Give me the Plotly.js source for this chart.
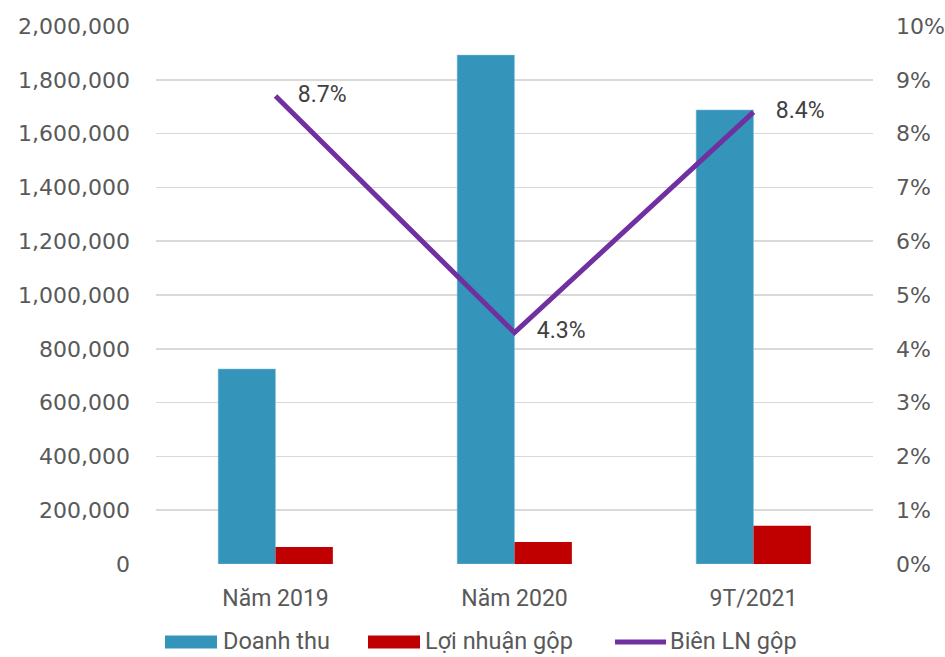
<!DOCTYPE html>
<html>
<head>
<meta charset="utf-8">
<script src="https://cdn.plot.ly/plotly-3.0.1.min.js"></script>
<style>html,body{margin:0;padding:0;background:#fff;}#chart{width:945px;height:657px;}</style>
</head>
<body>
<div id="chart"></div>
<script>
const categories = ["Năm 2019", "Năm 2020", "9T/2021"];
const doanhThu = [725000, 1892000, 1688000];
const loiNhuanGop = [63000, 81500, 142000];
const bienLN = [0.087, 0.043, 0.084];
const bienLabels = ["8.7%", "4.3%", "8.4%"];
const seriesNames = ["Doanh thu", "Lợi nhuận gộp", "Biên LN gộp"];
const leftTicks = [0, 200000, 400000, 600000, 800000, 1000000, 1200000, 1400000, 1600000, 1800000, 2000000];
const rightTicks = [0, 0.01, 0.02, 0.03, 0.04, 0.05, 0.06, 0.07, 0.08, 0.09, 0.10];

const colors = {dt: "#3494BA", ln: "#C00000", bien: "#7030A0"};

// plot area geometry (pixels)
const W = 945, H = 657;
const M = {l: 156, r: 72, t: 26, b: 93};
const PW = W - M.l - M.r, PH = H - M.t - M.b;
const px2x = p => (p - M.l) / PW;
const px2y = p => (H - M.b - p) / PH;

const traces = [
  {type: "bar", name: seriesNames[0], x: categories, y: doanhThu,
   marker: {color: colors.dt, line: {color: "#8cc4dc", width: 0.5}}, hoverinfo: "none"},
  {type: "bar", name: seriesNames[1], x: categories, y: loiNhuanGop,
   marker: {color: colors.ln}, hoverinfo: "none"},
  {type: "scatter", mode: "lines+markers+text", name: seriesNames[2], x: categories, y: bienLN, yaxis: "y2",
   line: {color: colors.bien, width: 5},
   marker: {size: 34, color: "rgba(0,0,0,0)", line: {width: 0}},
   text: bienLabels, textposition: "middle right",
   textfont: {family: "Roboto, sans-serif", size: 23, color: "#404040"}, hoverinfo: "none",
   cliponaxis: false}
];

// custom legend (wide swatches as in the reference)
const legMid = 642, legHalf = 6.5;
const shapes = [
  {type: "rect", xref: "paper", yref: "paper", x0: px2x(165), x1: px2x(217), y0: px2y(legMid + legHalf), y1: px2y(legMid - legHalf),
   fillcolor: colors.dt, line: {width: 0}},
  {type: "rect", xref: "paper", yref: "paper", x0: px2x(368), x1: px2x(420), y0: px2y(legMid + legHalf), y1: px2y(legMid - legHalf),
   fillcolor: colors.ln, line: {width: 0}},
  {type: "line", xref: "paper", yref: "paper", x0: px2x(615), x1: px2x(666), y0: px2y(legMid), y1: px2y(legMid),
   line: {color: colors.bien, width: 5}}
];
const legFont = {family: "Roboto, sans-serif", size: 23.5, color: "#595959"};
const annotations = [
  {xref: "paper", yref: "paper", x: px2x(221), y: px2y(legMid - 1), xanchor: "left", yanchor: "middle",
   text: seriesNames[0], showarrow: false, font: legFont},
  {xref: "paper", yref: "paper", x: px2x(423), y: px2y(legMid - 1), xanchor: "left", yanchor: "middle",
   text: seriesNames[1], showarrow: false, font: legFont},
  {xref: "paper", yref: "paper", x: px2x(668), y: px2y(legMid - 1), xanchor: "left", yanchor: "middle",
   text: seriesNames[2], showarrow: false, font: legFont}
];

const layout = {
  width: W, height: H,
  margin: M,
  paper_bgcolor: "#fff", plot_bgcolor: "#fff",
  barmode: "group", bargap: 0.52, bargroupgap: 0,
  showlegend: false,
  shapes: shapes, annotations: annotations,
  xaxis: {type: "category", range: [-0.5, 2.5], showgrid: false, zeroline: false, showline: false,
          ticks: "", ticklabelstandoff: 18, automargin: false,
          tickfont: {family: "Roboto, sans-serif", size: 23, color: "#595959"}},
  yaxis: {range: [0, 2000000], tickvals: leftTicks, tickformat: ",d", showgrid: true,
          gridcolor: "#d9d9d9", gridwidth: 1.5, zeroline: false, showline: false, ticks: "",
          ticklabelstandoff: 25, automargin: false,
          tickfont: {family: "'DejaVu Sans', sans-serif", size: 22, color: "#595959"}},
  yaxis2: {overlaying: "y", side: "right", range: [0, 0.10], tickvals: rightTicks, tickformat: ".0%",
           showgrid: false, zeroline: false, showline: false, ticks: "",
           ticklabelstandoff: 22, automargin: false,
           tickfont: {family: "'DejaVu Sans', sans-serif", size: 22, color: "#595959"}}
};

Plotly.newPlot("chart", traces, layout, {displayModeBar: false, staticPlot: true});
</script>
</body>
</html>
